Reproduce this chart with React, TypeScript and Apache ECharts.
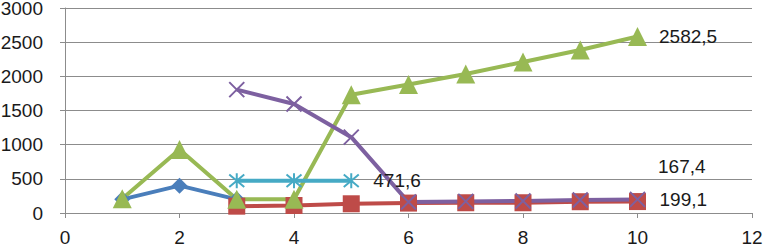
import React, { useEffect, useRef } from "react";
import * as echarts from "echarts";

const xTicks = [0, 2, 4, 6, 8, 10, 12];
const blueData: [number, number][] = [[1, 200], [2, 400], [3, 200]];
const redData: [number, number][] = [[3, 100], [4, 110], [5, 135], [6, 145], [7, 150], [8, 150], [9, 165], [10, 167.4]];
const greenData: [number, number][] = [[1, 210], [2, 930], [3, 200], [4, 200], [5, 1730], [6, 1880], [7, 2035], [8, 2210], [9, 2385], [10, 2582.5]];
const purpleData: [number, number][] = [[3, 1805], [4, 1595], [5, 1110], [6, 160], [7, 170], [8, 175], [9, 190], [10, 199.1]];
const cyanData: [number, number][] = [[3, 471.6], [4, 471.6], [5, 471.6]];

const FONT = "Liberation Sans";
const FS = 19;
const fmt = (v: number) => String(v).replace(".", ",");

function withEndLabel(data: [number, number][], offsetY = 0) {
  return data.map((d, i) =>
    i === data.length - 1
      ? {
          value: d,
          label: {
            show: true,
            position: "right",
            distance: 12,
            offset: [0, offsetY],
            formatter: () => fmt(d[1]),
            color: "#1a1a1a",
            fontFamily: FONT,
            fontSize: FS,
          },
        }
      : { value: d }
  );
}

export default function App() {
  const ref = useRef<HTMLDivElement>(null);
  useEffect(() => {
    if (!ref.current) return;
    const chart = echarts.init(ref.current, undefined, { renderer: "svg" });
    const lineW = 4;
    chart.setOption({
      animation: false,
      grid: { left: 65, right: 11, top: 8, bottom: 35, containLabel: false, outerBoundsMode: "none" },
      xAxis: {
        type: "value",
        min: 0,
        max: 12,
        interval: 2,
        axisLine: { show: true, lineStyle: { color: "#8c8c8c", width: 1 } },
        axisTick: { show: true, length: 5, lineStyle: { color: "#8c8c8c" } },
        splitLine: { show: false },
        axisLabel: {
          margin: 15,
          color: "#1a1a1a",
          fontFamily: FONT,
          fontSize: FS,
          formatter: (v: number) => (xTicks.includes(v) ? String(v) : ""),
        },
      },
      yAxis: {
        type: "value",
        min: 0,
        max: 3000,
        interval: 500,
        axisLine: { show: true, lineStyle: { color: "#8c8c8c", width: 1 } },
        axisTick: { show: true, length: 5, lineStyle: { color: "#8c8c8c" } },
        splitLine: { show: true, lineStyle: { color: "#8c8c8c", width: 1 } },
        axisLabel: {
          margin: 22,
          color: "#1a1a1a",
          fontFamily: FONT,
          fontSize: FS,
          formatter: (v: number) => String(v),
        },
      },
      series: [
        {
          type: "line",
          data: blueData,
          symbol: "diamond",
          symbolSize: 16,
          lineStyle: { color: "#4A7EBB", width: lineW },
          itemStyle: { color: "#4A7EBB" },
        },
        {
          type: "line",
          data: withEndLabel(redData, -35),
          symbol: "rect",
          symbolSize: 17,
          lineStyle: { color: "#BE4B48", width: lineW },
          itemStyle: { color: "#BE4B48" },
        },
        {
          type: "line",
          data: withEndLabel(greenData),
          symbol: "triangle",
          symbolSize: 19,
          lineStyle: { color: "#98B954", width: lineW },
          itemStyle: { color: "#98B954" },
        },
        {
          type: "line",
          data: withEndLabel(purpleData),
          symbol: "path://M0,0L10,10M10,0L0,10",
          symbolSize: 15,
          lineStyle: { color: "#7D60A0", width: lineW },
          itemStyle: { color: "none", borderColor: "#7D60A0", borderWidth: 2 },
        },
        {
          type: "line",
          data: withEndLabel(cyanData),
          symbol: "path://M0,0L10,10M10,0L0,10M5,-1L5,11",
          symbolSize: 15,
          lineStyle: { color: "#46AAC5", width: lineW },
          itemStyle: { color: "none", borderColor: "#46AAC5", borderWidth: 2 },
        },
      ],
    });
    return () => chart.dispose();
  }, []);
  return (
    <div
      ref={ref}
      style={{ position: "absolute", left: 0, top: 0, width: 763, height: 248, background: "#fff" }}
    />
  );
}
